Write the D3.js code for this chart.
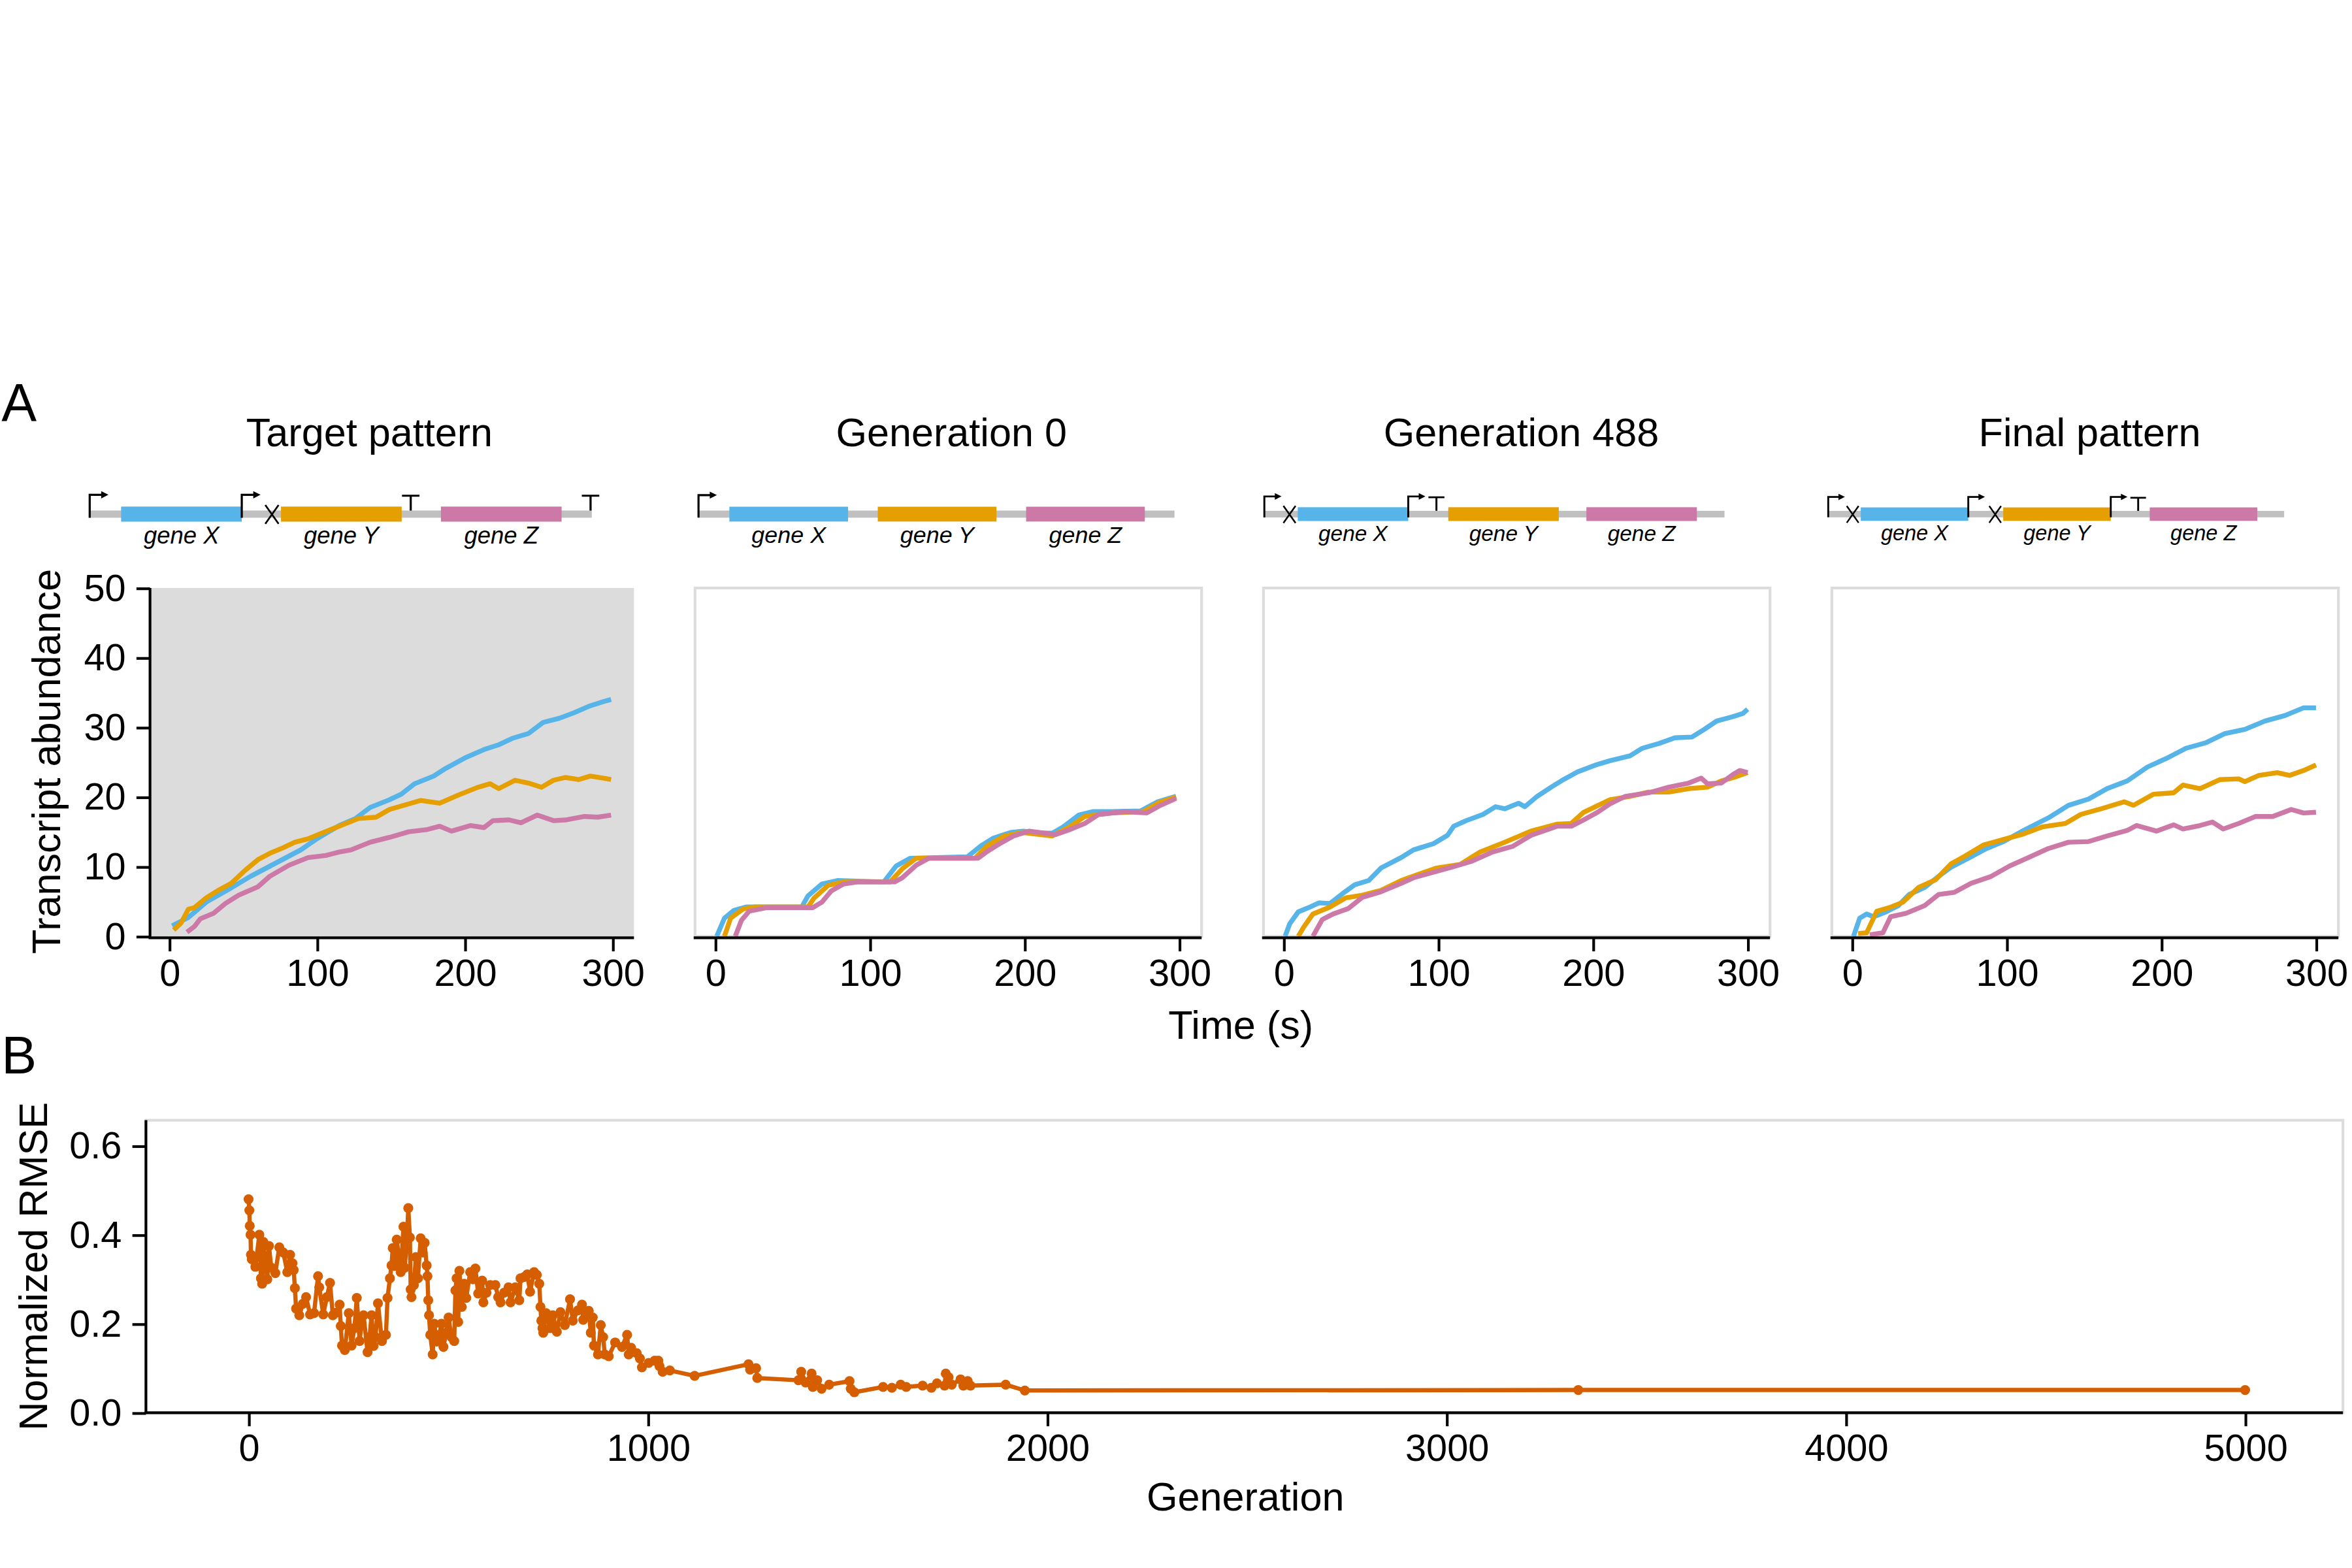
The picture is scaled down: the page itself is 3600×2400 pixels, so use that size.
<!DOCTYPE html>
<html>
<head>
<meta charset="utf-8">
<script src="https://cdn.jsdelivr.net/npm/d3@7"></script>
<style>
  body { margin: 0; background: #fff; }
  text { font-family: "Liberation Sans", Arial, Helvetica, sans-serif; }
</style>
</head>
<body>
<div id="canvas"></div>
<script>
// ---------- data ----------
const panelTitles = ["Target pattern", "Generation 0", "Generation 488", "Final pattern"];
const timeTicks = [0, 100, 200, 300];
const abundanceTicks = [0, 10, 20, 30, 40, 50];
const generationTicks = [0, 1000, 2000, 3000, 4000, 5000];
const rmseTicks = [0, 0.2, 0.4, 0.6];
const geneColors = { X: "#56b4e9", Y: "#e69f00", Z: "#cc79a7" };

// gene circuits: gaps hold parts (P promoter, C crossed-out, T terminator)
const designs = [
    [["P"], "X", ["P", "C"], "Y", ["T"], "Z", ["T"]],
    [["P"], "X", [], "Y", [], "Z", []],
    [["P", "C"], "X", ["P", "T"], "Y", [], "Z", []],
    [["P", "C"], "X", ["P", "C"], "Y", ["P", "T"], "Z", []]
];

// transcript abundance, [time (s), count]
const targetX = [[2,1.5],[13,2.7],[25,4.9],[40,6.7],[55,8.6],[72,10.5],[89,12.4],[100,14.0],[115,15.9],[126,16.9],[136,18.5],[149,19.6],[157,20.4],[166,21.9],[179,23.0],[187,24.1],[200,25.6],[213,26.8],[223,27.5],[232,28.4],[243,29.1],[253,30.7],[264,31.3],[274,32.1],[285,33.1],[294,33.7],[299,34.0]];
const targetY = [[3,0.9],[8,1.9],[13,3.9],[17,4.1],[25,5.5],[34,6.7],[42,7.6],[51,9.4],[60,11.0],[68,11.9],[77,12.7],[85,13.5],[94,14.0],[102,14.7],[115,15.8],[128,16.9],[140,17.1],[149,18.2],[157,18.7],[170,19.5],[183,19.1],[196,20.3],[209,21.4],[217,21.9],[223,21.2],[234,22.4],[243,22.0],[252,21.4],[260,22.4],[268,22.8],[277,22.5],[285,23.0],[294,22.7],[299,22.5]];
const targetZ = [[12,0.6],[17,1.4],[21,2.5],[30,3.3],[38,4.7],[47,5.9],[60,7.1],[68,8.6],[81,10.2],[94,11.3],[106,11.6],[115,12.1],[123,12.4],[136,13.5],[149,14.2],[162,15.0],[174,15.3],[183,15.8],[191,15.1],[204,15.9],[213,15.6],[219,16.6],[230,16.7],[238,16.3],[249,17.4],[260,16.6],[268,16.7],[281,17.2],[290,17.1],[299,17.4]];

const gen0X = [[1,0],[6,2.6],[12,3.7],[20,4.2],[56,4.2],[60,5.8],[69,7.5],[79,8.0],[109,7.8],[117,10.1],[126,11.2],[163,11.4],[172,13.0],[180,14.1],[191,14.9],[199,15.1],[210,14.8],[218,14.8],[225,15.7],[235,17.4],[244,17.9],[256,17.9],[275,18.0],[286,19.3],[298,20.1]];
const gen0Y = [[6,0],[10,2.6],[18,3.9],[25,4.2],[60,4.2],[64,5.5],[73,7.3],[83,7.8],[113,7.8],[121,9.7],[130,11.2],[168,11.2],[176,13.0],[187,14.4],[199,14.9],[218,14.4],[229,15.7],[239,17.2],[256,17.7],[277,17.9],[287,19.2],[298,20.0]];
const gen0Z = [[13,0],[17,2.3],[22,3.6],[33,4.1],[63,4.1],[69,4.9],[75,6.5],[83,7.5],[92,7.8],[116,7.8],[121,8.4],[130,10.2],[138,11.2],[170,11.2],[176,12.2],[184,13.3],[193,14.4],[203,15.1],[220,14.6],[229,15.3],[239,16.2],[248,17.5],[265,17.9],[279,17.7],[287,18.7],[298,19.8]];

const gen488X = [[1,0],[4,1.8],[9.5,3.5],[17,4.2],[23,4.8],[30,4.7],[38,6.1],[46,7.4],[55,8.0],[63,9.8],[76,11.3],[84,12.4],[97,13.3],[106,14.5],[110,15.8],[118,16.6],[129,17.5],[137,18.6],[143,18.3],[152,19.1],[156,18.6],[164,20.1],[173,21.4],[181,22.5],[190,23.6],[202,24.6],[211,25.2],[224,25.9],[232,27.0],[243,27.7],[253,28.5],[264,28.6],[272,29.7],[280,30.9],[290,31.5],[297,32.0],[300,32.6]];
const gen488Y = [[9.5,0],[13,1.3],[19,3.2],[30,4.2],[40,5.5],[51,5.9],[63,6.6],[76,8.0],[86,8.8],[99,9.8],[114,10.3],[127,12.1],[143,13.5],[160,15.1],[177,16.1],[186,16.2],[194,17.8],[211,19.6],[224,20.1],[236,20.7],[249,20.7],[262,21.2],[274,21.4],[283,22.3],[291,22.8],[300,23.5]];
const gen488Z = [[19,0],[25,2.4],[32,3.2],[42,4.0],[51,5.6],[63,6.4],[76,7.6],[84,8.4],[97,9.2],[110,10.0],[122,10.8],[135,12.1],[148,12.9],[160,14.5],[177,15.8],[186,15.8],[194,16.7],[203,17.8],[211,19.0],[221,20.1],[236,20.6],[249,21.4],[262,22.0],[270,22.7],[274,21.9],[283,22.0],[291,23.3],[295,23.8],[300,23.5]];

const finalX = [[1,0],[5,2.6],[9.5,3.2],[14,2.8],[22,3.5],[30,4.4],[37,6.0],[47,7.0],[56,8.6],[64,9.9],[77,11.4],[87,12.6],[98,13.6],[111,15.2],[127,17.0],[140,18.8],[153,19.7],[165,21.2],[178,22.3],[191,24.3],[203,25.5],[216,27.0],[229,27.8],[241,29.1],[254,29.7],[267,30.9],[280,31.7],[292,32.8],[300,32.8]];
const finalY = [[4,0.4],[9.5,0.5],[16,3.6],[24,4.1],[33,4.9],[43,7.0],[54,8.1],[64,10.4],[73,11.5],[85,13.1],[98,13.9],[111,14.7],[123,15.7],[138,16.2],[148,17.5],[161,18.3],[176,19.3],[182,18.8],[195,20.4],[208,20.6],[214,21.7],[225,21.2],[238,22.5],[250,22.6],[254,22.2],[263,23.1],[275,23.5],[283,23.1],[292,23.8],[300,24.6]];
const finalZ = [[11.6,0.2],[20,0.5],[25,2.8],[35,3.3],[47,4.4],[56,6.0],[66,6.3],[77,7.6],[90,8.6],[102,10.1],[115,11.4],[127,12.6],[140,13.5],[153,13.6],[165,14.4],[178,15.2],[184,15.9],[197,15.1],[208,16.0],[214,15.4],[225,15.9],[233,16.4],[240,15.4],[250,16.2],[261,17.2],[272,17.2],[284,18.2],[292,17.7],[300,17.8]];

const panelSeries = [
    { X: targetX, Y: targetY, Z: targetZ },
    { X: gen0X, Y: gen0Y, Z: gen0Z },
    { X: gen488X, Y: gen488Y, Z: gen488Z },
    { X: finalX, Y: finalY, Z: finalZ }
];

// normalized RMSE, [generation, value]
const rmse = [[0,.48],[2,.455],[3,.42],[5,.40],[6,.355],[8,.345],[17,.328],[27,.40],[31,.302],[34,.29],[37,.384],[47,.30],[51,.375],[57,.326],[67,.314],[77,.372],[87,.36],[97,.316],[104,.355],[110,.336],[113,.321],[116,.28],[119,.234],[127,.219],[136,.245],[144,.26],[154,.221],[164,.224],[174,.307],[177,.282],[187,.221],[196,.26],[204,.292],[211,.219],[220,.225],[228,.243],[231,.195],[234,.151],[241,.141],[251,.224],[258,.151],[265,.19],[271,.258],[278,.161],[283,.20],[288,.219],[298,.136],[303,.17],[308,.219],[313,.15],[318,.17],[324,.246],[334,.161],[344,.175],[348,.258],[354,.302],[358,.331],[361,.37],[366,.33],[371,.389],[381,.316],[388,.418],[391,.326],[396,.38],[400,.46],[404,.394],[406,.277],[408,.26],[414,.287],[419,.35],[424,.302],[431,.392],[436,.36],[441,.382],[446,.331],[448,.307],[450,.253],[452,.219],[455,.175],[461,.131],[465,.20],[471,.16],[478,.175],[483,.2],[488,.148],[495,.18],[501,.214],[508,.17],[515,.161],[518,.275],[521,.302],[525,.204],[528,.319],[534,.238],[540,.29],[545,.258],[555,.316],[562,.30],[568,.324],[575,.268],[585,.297],[588,.248],[596,.27],[605,.287],[618,.287],[625,.26],[631,.248],[640,.27],[651,.282],[656,.248],[668,.282],[678,.253],[681,.302],[690,.305],[698,.311],[705,.272],[715,.316],[722,.31],[728,.29],[731,.238],[733,.207],[736,.19],[738,.18],[745,.224],[755,.19],[762,.219],[772,.182],[781,.226],[792,.197],[805,.255],[812,.207],[825,.23],[835,.243],[838,.209],[845,.22],[852,.229],[857,.18],[862,.214],[865,.151],[875,.131],[882,.197],[888,.17],[892,.131],[902,.127],[918,.158],[935,.148],[948,.175],[952,.131],[958,.146],[972,.134],[980,.122],[985,.102],[1002,.112],[1017,.117],[1026,.117],[1029,.105],[1037,.092],[1055,.095],[1117,.083],[1252,.109],[1256,.097],[1271,.10],[1274,.078],[1377,.073],[1384,.092],[1395,.068],[1410,.088],[1413,.058],[1424,.073],[1435,.054],[1454,.063],[1505,.071],[1508,.054],[1517,.046],[1589,.058],[1611,.056],[1633,.063],[1647,.058],[1688,.061],[1710,.056],[1724,.066],[1743,.061],[1746,.088],[1753,.08],[1761,.063],[1783,.075],[1790,.061],[1801,.071],[1808,.061],[1896,.063],[1944,.05],[3330,.051],[5000,.051]];

// ---------- layout ----------
const svg = d3.select("#canvas").append("svg")
    .attr("width", 3600)
    .attr("height", 2400)
    .attr("viewBox", "0 0 1560 1040");

const fontSize = 25;
const tickLen = 9;
const lineW = 1.8;
const frameColor = "#dcdcdc";

const plotLeft = [99.5, 461, 838, 1215];
const plotRight = [420.5, 797, 1174, 1551];
const titleX = [245, 631, 1009, 1386];
const diagramStart = [59.5, 463.3, 838.6, 1212.6];
const diagramEnd = [392.5, 779, 1143.8, 1515];
const diagramY = 341;

const yA = d3.scaleLinear().domain([0, 50]).range([621, 390]);

function styleAxis(sel) {
    sel.select(".domain").remove();
    sel.selectAll(".tick line").attr("stroke", "#000").attr("stroke-width", lineW);
    sel.selectAll(".tick text").style("font-size", fontSize + "px").attr("fill", "#000");
}

// ---------- gene circuit diagram ----------
function layoutDesign(design) {
    let cursor = 0;
    const genes = [], parts = [];
    design.forEach((item, i) => {
        if (typeof item === "string") {
            genes.push({ name: item, x0: cursor, x1: cursor + 4 });
            cursor += 4;
            return;
        }
        const first = i === 0, last = i === design.length - 1;
        const hasP = item.includes("P"), hasC = item.includes("C"), hasT = item.includes("T");
        let w;
        if (first) w = 1.04 + (hasC ? 0.17 : 0);
        else if (last) w = 1.0;
        else w = 1.0 + ((hasC || hasT) ? 0.3 : 0) + ((hasP && hasT) ? 0.15 : 0);
        const g0 = cursor, g1 = cursor + w;
        item.forEach(p => {
            if (p === "P") parts.push({ type: "P", x: g0 });
            if (p === "C") parts.push({ type: "C", x: g1 - 0.3 });
            if (p === "T") parts.push({ type: "T", x: hasP ? g1 - 0.43 : (last ? g1 - 0.04 : g0 + 0.3) });
        });
        cursor = g1;
    });
    return { genes, parts, total: cursor };
}

function drawDesign(i) {
    const lay = layoutDesign(designs[i]);
    const u = d3.scaleLinear().domain([0, lay.total]).range([diagramStart[i], diagramEnd[i]]);
    const k = (diagramEnd[i] - diagramStart[i]) / lay.total;
    const g = svg.append("g").attr("class", "design");
    const cy = diagramY;

    g.append("rect")
        .attr("x", u(0)).attr("width", u(lay.total) - u(0))
        .attr("y", cy - 0.12 * k).attr("height", 0.24 * k)
        .attr("fill", "#c0c0c0");

    g.selectAll("rect.gene").data(lay.genes).enter().append("rect")
        .attr("class", "gene")
        .attr("x", d => u(d.x0)).attr("width", d => u(d.x1) - u(d.x0))
        .attr("y", cy - 0.25 * k).attr("height", 0.5 * k)
        .attr("fill", d => geneColors[d.name]);

    g.selectAll("text.gene").data(lay.genes).enter().append("text")
        .attr("class", "gene")
        .attr("x", d => u((d.x0 + d.x1) / 2))
        .attr("y", cy + 0.98 * k)
        .attr("text-anchor", "middle")
        .style("font-size", (0.79 * k) + "px")
        .style("font-style", "italic")
        .text(d => "gene " + d.name);

    const sw = 0.07 * k;
    lay.parts.forEach(p => {
        const x = u(p.x);
        if (p.type === "P") {
            const ay = cy - 0.64 * k;
            g.append("path")
                .attr("d", `M${x},${cy + 0.12 * k}V${ay}H${x + 0.4 * k}`)
                .attr("fill", "none").attr("stroke", "#000").attr("stroke-width", sw);
            g.append("path")
                .attr("d", `M${x + 0.38 * k},${ay - 0.12 * k}L${x + 0.62 * k},${ay}L${x + 0.38 * k},${ay + 0.12 * k}Z`)
                .attr("fill", "#000");
        } else if (p.type === "T") {
            g.append("path")
                .attr("d", `M${x},${cy - 0.12 * k}V${cy - 0.61 * k}M${x - 0.29 * k},${cy - 0.61 * k}H${x + 0.29 * k}`)
                .attr("fill", "none").attr("stroke", "#000").attr("stroke-width", sw);
        } else if (p.type === "C") {
            g.append("path")
                .attr("d", `M${x - 0.22 * k},${cy - 0.3 * k}L${x + 0.22 * k},${cy + 0.32 * k}M${x + 0.22 * k},${cy - 0.3 * k}L${x - 0.22 * k},${cy + 0.32 * k}`)
                .attr("fill", "none").attr("stroke", "#000").attr("stroke-width", 0.06 * k);
        }
    });
}

// ---------- panel A ----------
panelTitles.forEach((title, i) => {
    const x = d3.scaleLinear().domain([-13, 314.5]).range([plotLeft[i], plotRight[i]]);
    const g = svg.append("g").attr("class", "panel-a");

    if (i === 0) {
        g.append("rect")
            .attr("x", x.range()[0]).attr("y", yA(50))
            .attr("width", x.range()[1] - x.range()[0]).attr("height", yA(0) - yA(50))
            .attr("fill", "#dcdcdc");
    } else {
        g.append("rect")
            .attr("x", x.range()[0]).attr("y", yA(50))
            .attr("width", x.range()[1] - x.range()[0]).attr("height", yA(0) - yA(50))
            .attr("fill", "none").attr("stroke", frameColor).attr("stroke-width", lineW);
    }

    const line = d3.line().x(d => x(d[0])).y(d => yA(d[1]));
    ["X", "Y", "Z"].forEach(name => {
        g.append("path")
            .datum(panelSeries[i][name])
            .attr("d", line)
            .attr("fill", "none")
            .attr("stroke", geneColors[name])
            .attr("stroke-width", 3.2)
            .attr("stroke-linejoin", "round");
    });

    g.append("line")
        .attr("x1", x.range()[0] - lineW / 2).attr("x2", x.range()[1])
        .attr("y1", yA(0) + 1).attr("y2", yA(0) + 1)
        .attr("stroke", "#000").attr("stroke-width", lineW);

    g.append("g")
        .attr("transform", `translate(0,${yA(0) + 1})`)
        .call(d3.axisBottom(x).tickValues(timeTicks).tickSize(tickLen).tickPadding(5))
        .call(styleAxis);

    if (i === 0) {
        g.append("line")
            .attr("x1", x.range()[0]).attr("x2", x.range()[0])
            .attr("y1", yA(50)).attr("y2", yA(0) + 1)
            .attr("stroke", "#000").attr("stroke-width", lineW);
        g.append("g")
            .attr("transform", `translate(${x.range()[0]},0)`)
            .call(d3.axisLeft(yA).tickValues(abundanceTicks).tickSize(tickLen).tickPadding(7))
            .call(styleAxis);
    }

    svg.append("text")
        .attr("x", titleX[i]).attr("y", 296)
        .attr("text-anchor", "middle")
        .style("font-size", "26.5px")
        .text(title);

    drawDesign(i);
});

svg.append("text")
    .attr("x", 823).attr("y", 689)
    .attr("text-anchor", "middle")
    .style("font-size", "26.5px")
    .text("Time (s)");

svg.append("text")
    .attr("transform", "translate(40,505) rotate(-90)")
    .attr("text-anchor", "middle")
    .style("font-size", "26.5px")
    .text("Transcript abundance");

// ---------- panel B ----------
const xB = d3.scaleLinear().domain([-257, 5245]).range([96.8, 1554]);
const yB = d3.scaleLinear().domain([0, 0.6576]).range([937, 743]);
const gB = svg.append("g").attr("class", "panel-b");

gB.append("rect")
    .attr("x", xB.range()[0]).attr("y", yB.range()[1])
    .attr("width", xB.range()[1] - xB.range()[0]).attr("height", yB.range()[0] - yB.range()[1])
    .attr("fill", "none").attr("stroke", frameColor).attr("stroke-width", lineW);

gB.append("path")
    .datum(rmse)
    .attr("d", d3.line().x(d => xB(d[0])).y(d => yB(d[1])))
    .attr("fill", "none")
    .attr("stroke", "#d55e00")
    .attr("stroke-width", 2.8)
    .attr("stroke-linejoin", "round");

gB.selectAll("circle").data(rmse).enter().append("circle")
    .attr("cx", d => xB(d[0]))
    .attr("cy", d => yB(d[1]))
    .attr("r", 3.3)
    .attr("fill", "#d55e00");

gB.append("line")
    .attr("x1", xB.range()[0]).attr("x2", xB.range()[0])
    .attr("y1", yB.range()[1]).attr("y2", yB(0))
    .attr("stroke", "#000").attr("stroke-width", lineW);
gB.append("line")
    .attr("x1", xB.range()[0] - lineW / 2).attr("x2", xB.range()[1])
    .attr("y1", yB(0)).attr("y2", yB(0))
    .attr("stroke", "#000").attr("stroke-width", lineW);

gB.append("g")
    .attr("transform", `translate(0,${yB(0)})`)
    .call(d3.axisBottom(xB).tickValues(generationTicks).tickFormat(d3.format("d")).tickSize(tickLen).tickPadding(5))
    .call(styleAxis);

gB.append("g")
    .attr("transform", `translate(${xB.range()[0]},0)`)
    .call(d3.axisLeft(yB).tickValues(rmseTicks).tickFormat(d3.format(".1f")).tickSize(tickLen).tickPadding(7))
    .call(styleAxis);

svg.append("text")
    .attr("x", 826).attr("y", 1002)
    .attr("text-anchor", "middle")
    .style("font-size", "26.5px")
    .text("Generation");

svg.append("text")
    .attr("transform", "translate(31,840) rotate(-90)")
    .attr("text-anchor", "middle")
    .style("font-size", "26.5px")
    .text("Normalized RMSE");

// panel letters
svg.append("text").attr("x", 1).attr("y", 279).style("font-size", "35px").text("A");
svg.append("text").attr("x", 1).attr("y", 712).style("font-size", "35px").text("B");
</script>
</body>
</html>
